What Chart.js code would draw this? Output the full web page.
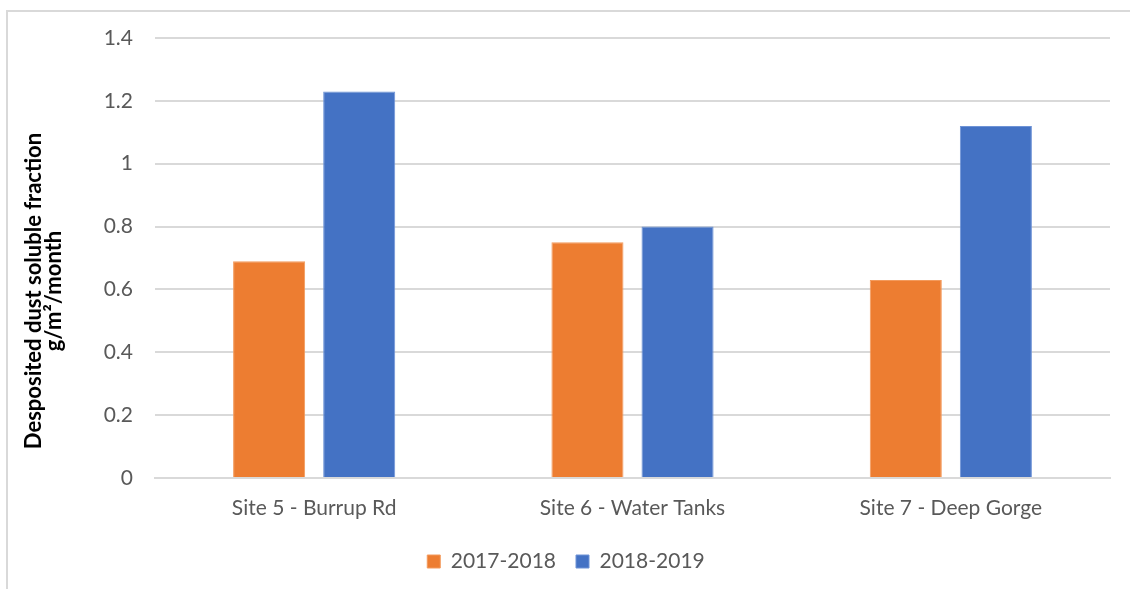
<!DOCTYPE html>
<html>
<head>
<meta charset="utf-8">
<script src="https://cdn.jsdelivr.net/npm/chart.js@4"></script>
<style>
  html, body { margin: 0; padding: 0; background: #ffffff; }
  #frame {
    position: absolute; left: 6px; top: 10px; width: 1124px; height: 579px;
    border-left: 2px solid #d9d9d9; border-top: 2px solid #d9d9d9;
    box-sizing: border-box;
  }
  #wrap { position: absolute; left: 0; top: 0; width: 1130px; height: 589px; }
</style>
</head>
<body>
<div id="frame"></div>
<div id="wrap"><canvas id="chart" width="1130" height="589"></canvas></div>
<script>
const sites = ['Site 5 - Burrup Rd', 'Site 6 - Water Tanks', 'Site 7 - Deep Gorge'];
const series2017 = [0.69, 0.75, 0.63];
const series2018 = [1.23, 0.80, 1.12];
const yTicks = [0, 0.2, 0.4, 0.6, 0.8, 1, 1.2, 1.4];
const yTitle = ['Desposited dust soluble fraction', 'g/m\u00b2/month'];

const font = "Lato, 'Open Sans', sans-serif";

// axis title drawn by hand, Excel puts it a bit below the plot centre
const yTitlePlugin = {
    id: 'yTitle',
    afterDraw: (chart) => {
        const c = chart.ctx;
        const area = chart.chartArea;
        const cy = (area.top + area.bottom) / 2 + 33;
        c.save();
        c.fillStyle = '#000000';
        c.font = `bold 22px ${font}`;
        c.textAlign = 'center';
        c.textBaseline = 'middle';
        yTitle.forEach((line, i) => {
            c.save();
            c.translate(34 + i * 20, cy);
            c.rotate(-Math.PI / 2);
            c.fillText(line, 0, 0);
            c.restore();
        });
        c.restore();
    }
};

const ctx = document.getElementById('chart').getContext('2d');
new Chart(ctx, {
    type: 'bar',
    data: {
        labels: sites,
        datasets: [{
            label: '2017-2018',
            data: series2017,
            backgroundColor: '#ED7D31',
            borderColor: '#F39A5C',
            borderWidth: 1
        }, {
            label: '2018-2019',
            data: series2018,
            backgroundColor: '#4472C4',
            borderColor: '#6E93D6',
            borderWidth: 1
        }]
    },
    options: {
        responsive: false,
        animation: false,
        layout: {
            padding: { top: 38, right: 20, bottom: 7, left: 22 }
        },
        datasets: {
            bar: { categoryPercentage: 0.566, barPercentage: 0.8 }
        },
        scales: {
            y: {
                min: 0,
                max: 1.4,
                afterBuildTicks: (scale) => {
                    scale.ticks = yTicks.map(v => ({ value: v }));
                },
                afterFit: (scale) => { scale.width = 133; },
                grid: { color: '#d9d9d9', lineWidth: 2, drawTicks: false },
                border: { display: false },
                ticks: {
                    color: '#595959',
                    font: { family: font, size: 21 },
                    padding: 22,
                    callback: (v) => String(v)
                }
            },
            x: {
                afterFit: (scale) => { scale.height = 53; },
                grid: { display: false, drawTicks: false },
                border: { display: true, color: '#d9d9d9', width: 2 },
                ticks: {
                    color: '#595959',
                    font: { family: font, size: 21 },
                    padding: 18
                }
            }
        },
        plugins: {
            legend: {
                position: 'bottom',
                labels: {
                    color: '#595959',
                    font: { family: font, size: 21 },
                    boxWidth: 13,
                    boxHeight: 13,
                    padding: 20
                }
            },
            tooltip: { enabled: false }
        }
    },
    plugins: [yTitlePlugin]
});
</script>
</body>
</html>
